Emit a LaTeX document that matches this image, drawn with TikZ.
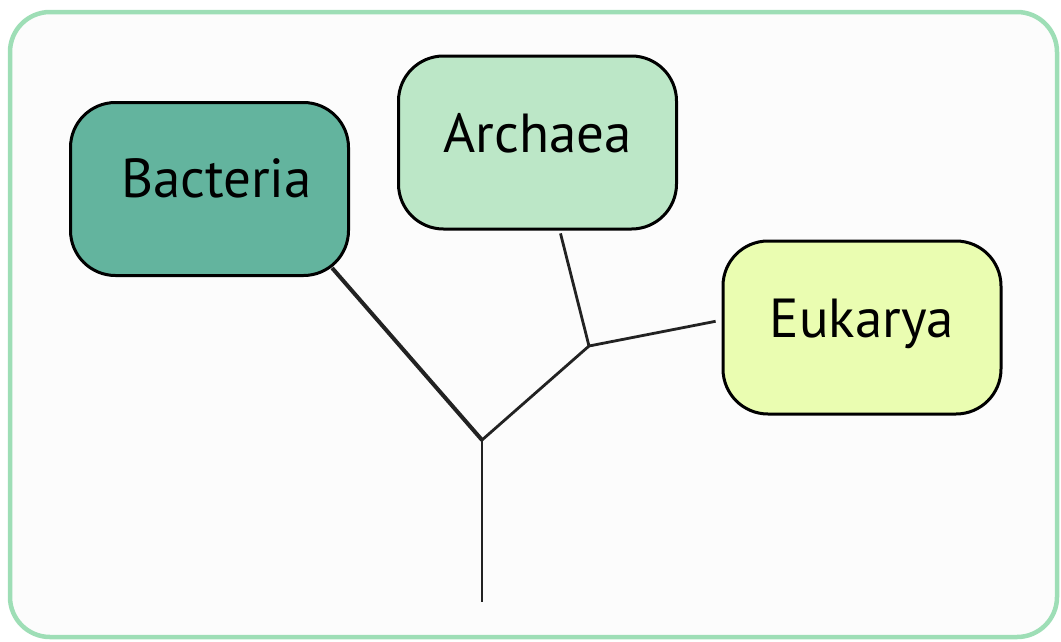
\documentclass[tikz,border=0pt]{standalone}
\usepackage{fontspec}
\setmainfont{PT Sans}
\usetikzlibrary{backgrounds,calc}
\usepackage{xcolor}
\definecolor{tframe}{RGB}{158,222,182}
\definecolor{tpaper}{RGB}{252,252,252}
\definecolor{tbac}{RGB}{99,180,158}
\definecolor{tarc}{RGB}{188,231,199}
\definecolor{teuk}{RGB}{234,253,177}
\definecolor{tline}{RGB}{34,34,34}

\begin{document}
\begin{tikzpicture}[x=1pt,y=-1pt,
    taxon/.style={draw,line width=3pt,rounded corners=45pt,minimum width=278pt,minimum height=173pt,
      font=\fontsize{55}{60}\selectfont,text height=40pt,text depth=20pt,inner sep=0pt},
    branch/.style={draw=tline,line width=2.8pt}]
    \useasboundingbox (0,0) rectangle (1061,641);
    \node[taxon,fill=tbac,text depth=24pt] (bac) at (209.5,189) {\hspace{14pt}Bacteria};
    \node[taxon,fill=tarc] (arc) at (537.5,142.5) {Archaea};
    \node[taxon,fill=teuk] (euk) at (862,327.5) {Eukarya};
    \coordinate (root) at (482,440);
    \coordinate (fork) at (589,346);
    \coordinate (base) at (482,602);
    \draw[branch,line width=4pt,shorten <=-12pt] (bac.-34) -- (root);
    \begin{scope}[on background layer]
      \draw[draw=tframe,line width=4.5pt,fill=tpaper,rounded corners=40pt] (10,12) rectangle (1057,637);
      \draw[branch] (root) -- (base);
      \draw[branch] (root) -- (fork);
      \draw[branch,shorten >=3pt] (fork) -- (arc);
      \draw[branch,shorten >=6pt] (fork) -- (euk.177);
    \end{scope}
  \end{tikzpicture}
\end{document}
